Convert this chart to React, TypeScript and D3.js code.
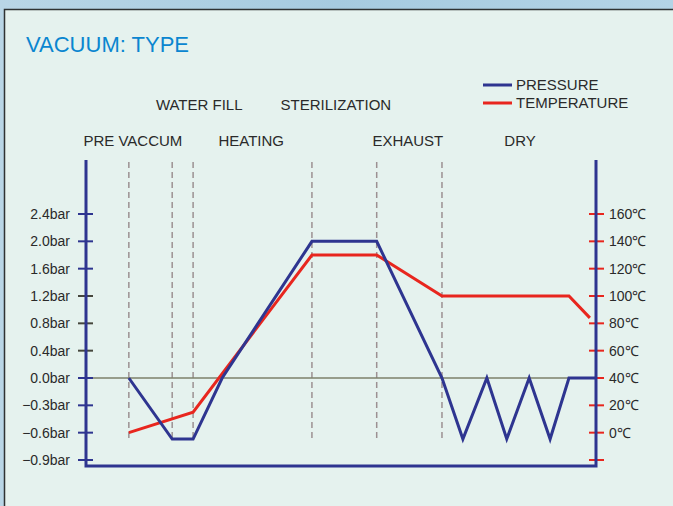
import React from "react";
import * as d3 from "d3";

const width = 673;
const height = 506;

// x runs 0..100 across the process (arbitrary time units)
const phaseBounds = [8.4, 16.9, 21, 44.3, 57, 69.8];
const phaseRow1 = ["WATER FILL", "STERILIZATION"];
const phaseRow1X = [22.2, 49];
const phaseRow2 = ["PRE VACCUM", "HEATING", "EXHAUST", "DRY"];
const phaseRow2X = [9.2, 32.4, 63.1, 85.1];

const pressureTicks = [2.4, 2.0, 1.6, 1.2, 0.8, 0.4, 0.0, -0.3, -0.6, -0.9];
const pressureLabels = ["2.4bar", "2.0bar", "1.6bar", "1.2bar", "0.8bar", "0.4bar", "0.0bar", "-0.3bar", "-0.6bar", "-0.9bar"];
const tempTicks = [160, 140, 120, 100, 80, 60, 40, 20, 0, -20];
const tempLabels = ["160℃", "140℃", "120℃", "100℃", "80℃", "60℃", "40℃", "20℃", "0℃", ""];

const pressureX = [8.4, 16.9, 21, 26.7, 44.3, 57, 69.8, 73.9, 78.6, 82.5, 86.9, 91, 94.7, 100];
const pressureY = [0, -0.67, -0.67, 0, 2.0, 2.0, 0, -0.67, 0, -0.67, 0, -0.67, 0, 0];
const tempX = [8.4, 21, 44.3, 57, 69.8, 94.7, 98.8];
const tempY = [0, 15, 130, 130, 100, 100, 84];

const navy = "#2e3590";
const red = "#e8261e";
const ink = "#2a2a2a";
const font = "Liberation Sans, Arial, sans-serif";

const left = 86;
const right = 596;
const top = 160;
const bottom = 466;

const x = d3.scaleLinear().domain([0, 100]).range([left, right]);
// the pressure axis uses 0.3 steps below zero and 0.4 steps above
const yP = d3.scaleLinear().domain([-0.9, 0, 2.4]).range([460, 378, 214]);
const yT = d3.scaleLinear().domain([-20, 160]).range([460, 214]);

const pressureLine = d3.line<number>()
  .x((d, i) => x(pressureX[i]))
  .y(d => yP(d));
const tempLine = d3.line<number>()
  .x((d, i) => x(tempX[i]))
  .y(d => yT(d));

const greyTicks = [1.2, 0.8, 0.4];

const App = () => {
  return (
    <svg width={width} height={height} style={{ position: "absolute", left: 0, top: 0 }}>
      <defs>
        <linearGradient id="sky" x1="0" y1="0" x2="1" y2="0">
          <stop offset="0" stopColor="#b9d6e6" />
          <stop offset="0.5" stopColor="#a6cbe0" />
          <stop offset="1" stopColor="#b4d4e6" />
        </linearGradient>
      </defs>
      <rect width={width} height={height} fill="url(#sky)" />
      <rect x={4.5} y={9.5} width={width + 10} height={height + 10} fill="#e5f2ee" stroke="#2f3333" strokeWidth={1.5} />

      <text x={26} y={52} fill="#0a86d0" fontFamily={font} fontSize={22}>VACUUM: TYPE</text>

      {/* legend */}
      <line x1={483} x2={512} y1={85} y2={85} stroke={navy} strokeWidth={3} />
      <text x={516} y={90} fill={ink} fontFamily={font} fontSize={15}>PRESSURE</text>
      <line x1={483} x2={512} y1={103} y2={103} stroke={red} strokeWidth={3} />
      <text x={516} y={108} fill={ink} fontFamily={font} fontSize={15}>TEMPERATURE</text>

      {phaseRow1.map((t, i) => (
        <text key={t} x={x(phaseRow1X[i])} y={110} textAnchor="middle" fill={ink} fontFamily={font} fontSize={15}>{t}</text>
      ))}
      {phaseRow2.map((t, i) => (
        <text key={t} x={x(phaseRow2X[i])} y={146} textAnchor="middle" fill={ink} fontFamily={font} fontSize={15}>{t}</text>
      ))}

      {phaseBounds.map(b => (
        <line key={b} x1={x(b)} x2={x(b)} y1={162} y2={440} stroke="#9c9192" strokeWidth={1.5} strokeDasharray="6,4" />
      ))}

      <line x1={left} x2={right} y1={yP(0)} y2={yP(0)} stroke="#7c806a" strokeWidth={1.5} />

      {/* left axis */}
      {pressureTicks.map((v, i) => (
        <g key={v} transform={`translate(0,${yP(v)})`}>
          <line x1={78} x2={93} stroke={greyTicks.includes(v) ? "#45463c" : navy} strokeWidth={2} />
          <text x={70} dy="0.35em" textAnchor="end" fill={ink} fontFamily={font} fontSize={14}>{pressureLabels[i].replace("-", "\u2212")}</text>
        </g>
      ))}

      {/* right axis */}
      {tempTicks.map((v, i) => (
        <g key={v} transform={`translate(0,${yT(v)})`}>
          <line x1={589} x2={604} stroke={red} strokeWidth={2} />
          <text x={609} dy="0.35em" fill={ink} fontFamily={font} fontSize={14}>{tempLabels[i]}</text>
        </g>
      ))}

      <path d={tempLine(tempY) || ""} fill="none" stroke={red} strokeWidth={3} />
      <path d={pressureLine(pressureY) || ""} fill="none" stroke={navy} strokeWidth={3} />

      <path d={`M${left},${top}V${bottom}H${right}V${top}`} fill="none" stroke={navy} strokeWidth={3} />
    </svg>
  );
};

export default App;
